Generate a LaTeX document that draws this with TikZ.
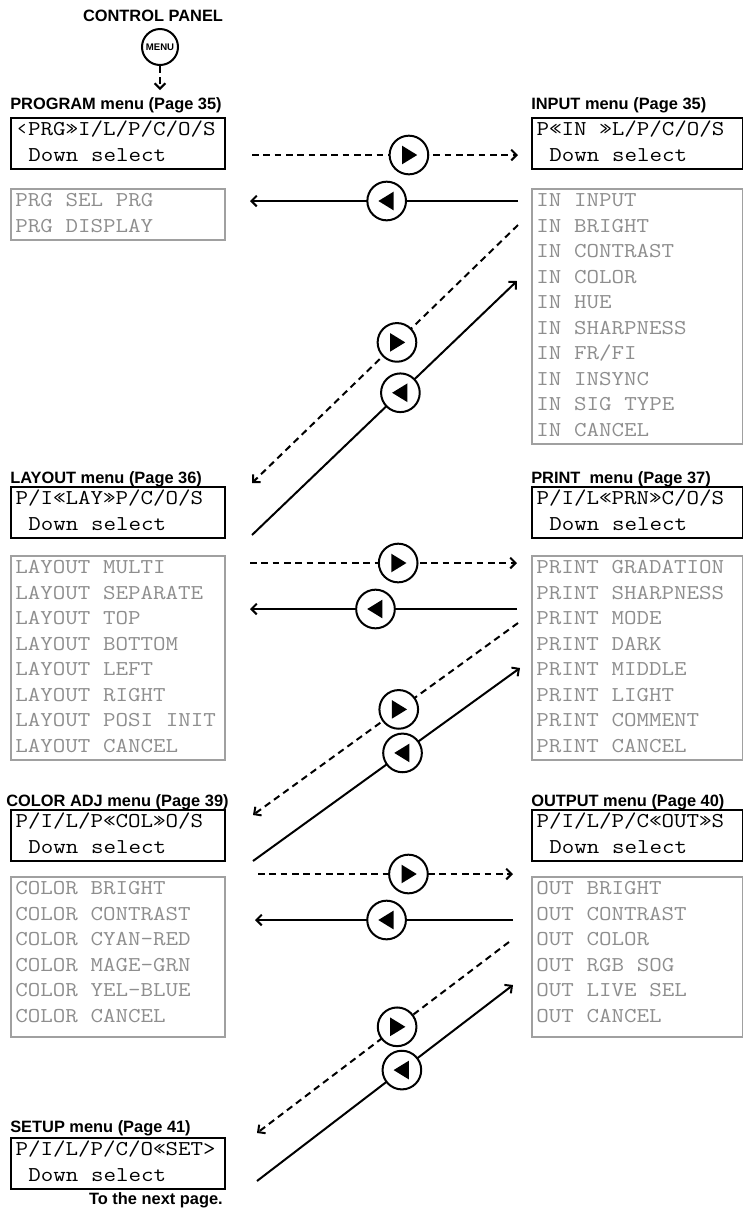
\documentclass[tikz,border=0pt]{standalone}
\usepackage{fontspec}
\setmainfont{Liberation Sans}
\newfontfamily\lcdfont[FakeStretch=1.15]{Latin Modern Mono}
\usetikzlibrary{arrows.meta}
\definecolor{lstline}{HTML}{A0A0A0}
\definecolor{lsttext}{HTML}{8E8E8E}
\newcommand{\lcdsp}{\hspace*{9.56pt}}
\newcommand{\lowpad}{\rule[-11pt]{0pt}{1pt}}

\begin{document}
\begin{tikzpicture}[x=0.75pt, y=-0.75pt, every node/.style={inner sep=0pt},
    title/.style={font=\bfseries\fontsize{12.3}{14}\selectfont, anchor=base west},
    lcd/.style={draw, line width=1.5pt, anchor=north west, align=left, inner xsep=3.4pt, inner ysep=0pt,
      font=\lcdfont\fontsize{15.84}{19.125}\selectfont},
    lst/.style={lcd, draw=lstline, line width=1.2pt, text=lsttext},
    lft/.style={text width=153.75pt},
    rgt/.style={text width=151.5pt},
    menubtn/.style={circle, draw, line width=1.5pt, minimum size=27pt, font=\bfseries\fontsize{7.2}{8}\selectfont},
    btn/.style={circle, draw, solid, line width=1.5pt, fill=white, minimum size=29pt},
    fwd/.style={btn, path picture={\fill[black] ([xshift=-5.2pt,yshift=7pt]path picture bounding box.center) -- ++(11.4pt,-7pt) -- ++(-11.4pt,-7pt) -- cycle;}},
    bwd/.style={btn, path picture={\fill[black] ([xshift=5.2pt,yshift=7pt]path picture bounding box.center) -- ++(-11.4pt,-7pt) -- ++(11.4pt,-7pt) -- cycle;}},
    arr/.style={line width=1.5pt, -{Straight Barb[length=4pt,width=8pt]}},
    darr/.style={arr, dash pattern=on 5pt off 3.5pt}]
  \useasboundingbox (0,0) rectangle (743,1208);

  % control panel
  \node[title, anchor=base] (ctl) at (153,21) {CONTROL PANEL};
  \node[menubtn] (menu) at (160,47) {MENU};
  \coordinate (menu-end) at (160,90);
  \draw[darr] (menu) -- (menu-end);

  % menus
  \node[title] (prg-t) at (10,109) {PROGRAM menu (Page 35)};
  \node[lcd, lft] (prg) at (10,117) {\strut‹PRG»I/L/P/C/O/S\\\lcdsp Down\lcdsp select\strut};
  \node[lst, lft] (prg-l) at (10,188) {\strut PRG\lcdsp SEL\lcdsp PRG\\PRG\lcdsp DISPLAY\strut};

  \node[title] (in-t) at (531,109) {INPUT menu (Page 35)};
  \node[lcd, rgt] (in) at (531,117) {\strut P«IN\lcdsp»L/P/C/O/S\\\lcdsp Down\lcdsp select\strut};
  \node[lst, rgt] (in-l) at (531,188) {\strut IN\lcdsp INPUT\\IN\lcdsp BRIGHT\\IN\lcdsp CONTRAST\\IN\lcdsp COLOR\\IN\lcdsp HUE\\IN\lcdsp SHARPNESS\\IN\lcdsp FR/FI\\IN\lcdsp INSYNC\\IN\lcdsp SIG\lcdsp TYPE\\IN\lcdsp CANCEL\strut};

  \node[title] (lay-t) at (10,483) {LAYOUT menu (Page 36)};
  \node[lcd, lft] (lay) at (10,486) {\strut P/I«LAY»P/C/O/S\\\lcdsp Down\lcdsp select\strut};
  \node[lst, lft] (lay-l) at (10,555) {\strut LAYOUT\lcdsp MULTI\\LAYOUT\lcdsp SEPARATE\\LAYOUT\lcdsp TOP\\LAYOUT\lcdsp BOTTOM\\LAYOUT\lcdsp LEFT\\LAYOUT\lcdsp RIGHT\\LAYOUT\lcdsp POSI\lcdsp INIT\\LAYOUT\lcdsp CANCEL\strut};

  \node[title] (prn-t) at (531,483) {PRINT~ menu (Page 37)};
  \node[lcd, rgt] (prn) at (531,486) {\strut P/I/L«PRN»C/O/S\\\lcdsp Down\lcdsp select\strut};
  \node[lst, rgt] (prn-l) at (531,555) {\strut PRINT\lcdsp GRADATION\\PRINT\lcdsp SHARPNESS\\PRINT\lcdsp MODE\\PRINT\lcdsp DARK\\PRINT\lcdsp MIDDLE\\PRINT\lcdsp LIGHT\\PRINT\lcdsp COMMENT\\PRINT\lcdsp CANCEL\strut};

  \node[title] (col-t) at (6,806) {COLOR ADJ menu (Page 39)};
  \node[lcd, lft] (col) at (10,809) {\strut P/I/L/P«COL»O/S\\\lcdsp Down\lcdsp select\strut};
  \node[lst, lft] (col-l) at (10,876) {\strut COLOR\lcdsp BRIGHT\\COLOR\lcdsp CONTRAST\\COLOR\lcdsp CYAN-RED\\COLOR\lcdsp MAGE-GRN\\COLOR\lcdsp YEL-BLUE\\COLOR\lcdsp CANCEL\lowpad};

  \node[title] (out-t) at (531,806) {OUTPUT menu (Page 40)};
  \node[lcd, rgt] (out) at (531,809) {\strut P/I/L/P/C«OUT»S\\\lcdsp Down\lcdsp select\strut};
  \node[lst, rgt] (out-l) at (531,876) {\strut OUT\lcdsp BRIGHT\\OUT\lcdsp CONTRAST\\OUT\lcdsp COLOR\\OUT\lcdsp RGB\lcdsp SOG\\OUT\lcdsp LIVE\lcdsp SEL\\OUT\lcdsp CANCEL\lowpad};

  \node[title] (set-t) at (10,1132) {SETUP menu (Page 41)};
  \node[lcd, lft] (set) at (10,1137) {\strut P/I/L/P/C/O«SET>\\\lcdsp Down\lcdsp select\strut};
  \node[title, anchor=base east] (next) at (223,1204) {To the next page.};

  % end points of the connectors
  \coordinate (h1l) at (252,155);  \coordinate (h1r) at (518,155);
  \coordinate (k1r) at (518,201);  \coordinate (k1l) at (250,201);
  \coordinate (d1t) at (518,225);  \coordinate (d1b) at (252,483);
  \coordinate (u1b) at (252,535);  \coordinate (u1t) at (517,281);
  \coordinate (h2l) at (250,563);  \coordinate (h2r) at (517,563);
  \coordinate (k2r) at (517,609);  \coordinate (k2l) at (250,609);
  \coordinate (d2t) at (518,623);  \coordinate (d2b) at (253,815);
  \coordinate (u2b) at (253,861);  \coordinate (u2t) at (520,668);
  \coordinate (h3l) at (258,874);  \coordinate (h3r) at (513,874);
  \coordinate (k3r) at (513,920);  \coordinate (k3l) at (255,920);
  \coordinate (d3t) at (509,942);  \coordinate (d3b) at (257,1133);
  \coordinate (u3b) at (257,1181); \coordinate (u3t) at (513,985);

  % connectors with buttons
  \draw[darr] (h1l) -- node[fwd, pos=0.59] (f1) {} (h1r);
  \draw[arr] (k1r) -- node[bwd, pos=0.49] (b1) {} (k1l);
  \draw[darr] (d1t) -- node[fwd, pos=0.455] (f1d) {} (d1b);
  \draw[arr] (u1b) -- node[bwd, pos=0.56] (b1d) {} (u1t);
  \draw[darr] (h2l) -- node[fwd, pos=0.555] (f2) {} (h2r);
  \draw[arr] (k2r) -- node[bwd, pos=0.53] (b2) {} (k2l);
  \draw[darr] (d2t) -- node[fwd, pos=0.45] (f2d) {} (d2b);
  \draw[arr] (u2b) -- node[bwd, pos=0.56] (b2d) {} (u2t);
  \draw[darr] (h3l) -- node[fwd, pos=0.59] (f3) {} (h3r);
  \draw[arr] (k3r) -- node[bwd, pos=0.49] (b3) {} (k3l);
  \draw[darr] (d3t) -- node[fwd, pos=0.444] (f3d) {} (d3b);
  \draw[arr] (u3b) -- node[bwd, pos=0.566] (b3d) {} (u3t);
\end{tikzpicture}
\end{document}
